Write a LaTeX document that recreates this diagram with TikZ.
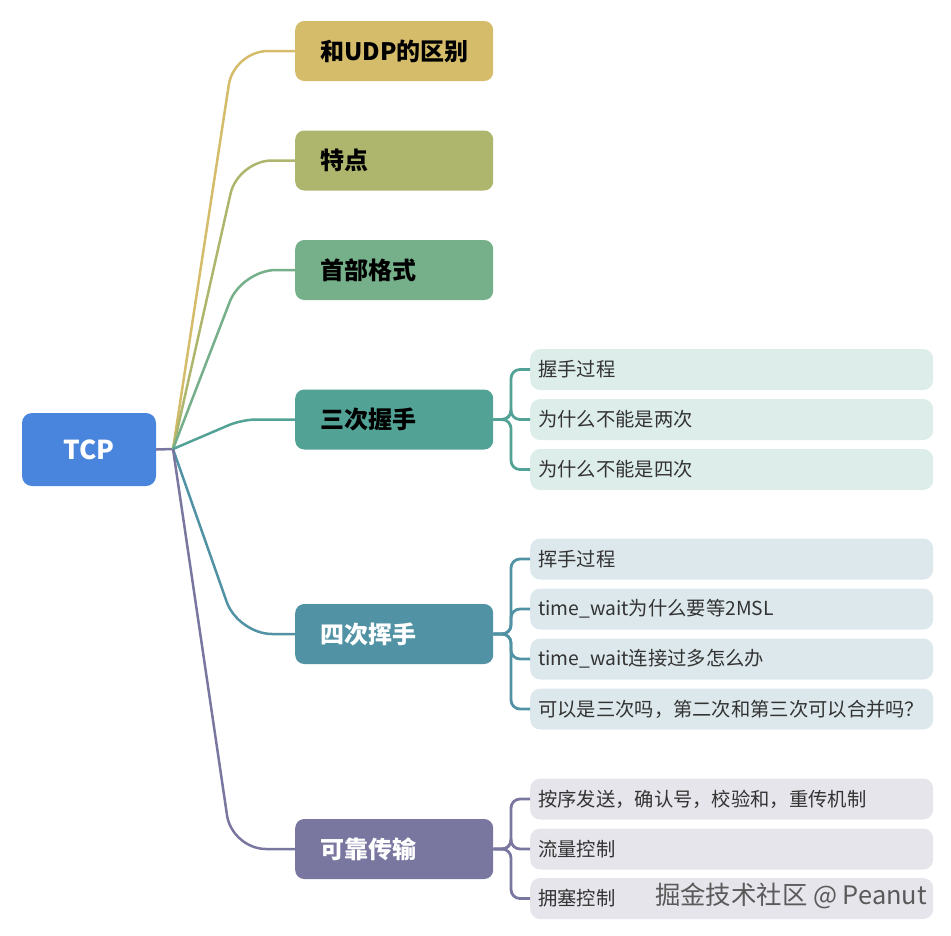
\documentclass[tikz,border=0pt]{standalone}
\usepackage{fontspec}
\setmainfont{Noto Sans CJK SC}
\definecolor{cRoot}{HTML}{4A85DD}
\definecolor{cA}{HTML}{D4BC6B}
\definecolor{cB}{HTML}{AEB66D}
\definecolor{cC}{HTML}{75B08A}
\definecolor{cD}{HTML}{53A296}
\definecolor{cE}{HTML}{5193A4}
\definecolor{cF}{HTML}{79779F}
\definecolor{lD}{HTML}{DDEDEA}
\definecolor{lE}{HTML}{DCE8EC}
\definecolor{lF}{HTML}{E5E5EB}
\definecolor{leaftext}{HTML}{333333}
\definecolor{wm}{HTML}{5A5A5A}
\tikzset{
  rootbox/.style={rectangle, rounded corners=10pt, fill=cRoot, text=white,
    minimum width=134pt, minimum height=73pt, inner sep=0pt,
    font=\fontsize{26}{30}\selectfont\bfseries},
  mainbox/.style={rectangle, rounded corners=9pt, anchor=west,
    minimum width=198pt, minimum height=60pt, inner xsep=25pt, inner ysep=0pt,
    text width=148pt, align=left, font=\fontsize{24}{28}\selectfont\bfseries},
  leafbox/.style={rectangle, rounded corners=10pt, anchor=west,
    minimum width=403pt, minimum height=41pt, inner xsep=8pt, inner ysep=0pt,
    text width=387pt, align=left, text=leaftext,
    font=\fontsize{19.3}{22}\selectfont},
  mainline/.style={line width=2.5pt, rounded corners=34pt},
  leafline/.style={line width=2.8pt, rounded corners=9pt},
}
\begin{document}
\begin{tikzpicture}[x=1pt,y=-1pt]
\useasboundingbox (0,0) rectangle (951,935);
% root
\node[rootbox] (root) at (89,449.5) {TCP};
\coordinate (j) at (173,449);
% main nodes
\node[mainbox, fill=cA, text=black] (n1) at (295,51) {和UDP的区别};
\node[mainbox, fill=cB, text=black] (n2) at (295,160.5) {特点};
\node[mainbox, fill=cC, text=black] (n3) at (295,270) {首部格式};
\node[mainbox, fill=cD, text=black] (n4) at (295,419.5) {三次握手};
\node[mainbox, fill=cE, text=white] (n5) at (295,634) {四次挥手};
\node[mainbox, fill=cF, text=white] (n6) at (295,849) {可靠传输};
% leaves
\node[leafbox, fill=lD] (d1) at (530,369.5) {握手过程};
\node[leafbox, fill=lD] (d2) at (530,419.5) {为什么不能是两次};
\node[leafbox, fill=lD] (d3) at (530,469.5) {为什么不能是四次};
\node[leafbox, fill=lE] (e1) at (530,559) {挥手过程};
\node[leafbox, fill=lE] (e2) at (530,609) {time\_wait为什么要等2MSL};
\node[leafbox, fill=lE] (e3) at (530,659) {time\_wait连接过多怎么办};
\node[leafbox, fill=lE] (e4) at (530,709) {可以是三次吗，第二次和第三次可以合并吗？};
\node[leafbox, fill=lF] (f1) at (530,799) {按序发送，确认号，校验和，重传机制};
\node[leafbox, fill=lF] (f2) at (530,849) {流量控制};
\node[leafbox, fill=lF] (f3) at (530,898.5) {拥塞控制};
% root stub
\draw[cF, line width=2.5pt] (root.east) -- (j);
% main connectors
\draw[cA, mainline] (j) -- (234,51) -- (n1.west);
\draw[cB, mainline] (j) -- (238,160.5) -- (n2.west);
\draw[cC, mainline] (j) -- (242,270) -- (n3.west);
\draw[cD, mainline, rounded corners=14pt] (j) -- (242,419.5) -- (n4.west);
\draw[cE, mainline] (j) -- (238,634) -- (n5.west);
\draw[cF, mainline] (j) -- (232,849) -- (n6.west);
% leaf brackets
\foreach \l in {d1,d2,d3}{
  \draw[cD, leafline] (n4.east) -- (511,419.5) -- (511,0 |- \l.west) -- (\l.west);
}
\foreach \l in {e1,e2,e3,e4}{
  \draw[cE, leafline] (n5.east) -- (511,634) -- (511,0 |- \l.west) -- (\l.west);
}
\foreach \l in {f1,f2,f3}{
  \draw[cF, leafline] (n6.east) -- (511,849) -- (511,0 |- \l.west) -- (\l.west);
}
% watermark
\node[anchor=east, text=wm, font=\fontsize{25.4}{28}\selectfont, inner sep=0pt] (wmk) at (927,896) {掘金技术社区 @ Peanut};
\end{tikzpicture}
\end{document}
